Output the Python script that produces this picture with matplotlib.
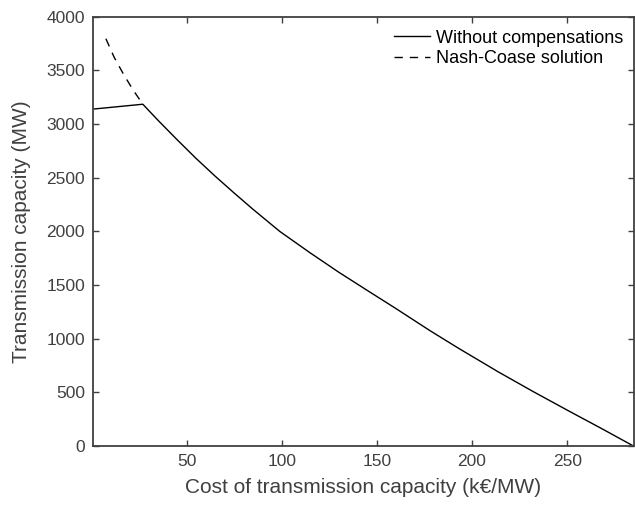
import matplotlib.pyplot as plt
import numpy as np

plt.rcParams['font.family'] = ['Liberation Sans', 'DejaVu Sans']

# Without compensations (solid)
cost_solid = [1, 27, 35, 45, 55, 65, 75, 85, 99, 115, 130, 146, 160,
              178, 193, 214, 232, 250, 268, 285]
cap_solid = [3140, 3185, 3035, 2855, 2680, 2515, 2358, 2205, 2000, 1800,
             1620, 1439, 1282, 1075, 911, 690, 510, 336, 165, 0]

# Nash-Coase solution (dashed)
cost_dash = [7.6, 12, 17, 22, 27]
cap_dash = [3795, 3620, 3460, 3315, 3185]

axis_col = '#404040'
fig = plt.figure(figsize=(6.35, 5.07), dpi=100)
ax = fig.add_axes([0.147, 0.12, 0.851, 0.847])

ax.plot(cost_solid, cap_solid, color='black', lw=1.0,
        label='Without compensations')
ax.plot(cost_dash, cap_dash, color='black', lw=1.0, ls=(0, (6, 5)),
        label='Nash-Coase solution')

ax.set_xlim(1, 285)
ax.set_ylim(0, 4000)
ax.set_xticks([50, 100, 150, 200, 250])
ax.set_yticks(np.arange(0, 4001, 500))
ax.tick_params(direction='in', top=True, right=True, length=4, width=1,
               pad=6, colors=axis_col, labelsize=12.5, labelcolor=axis_col)
for s in ax.spines.values():
    s.set_color(axis_col)
    s.set_linewidth(1.3)

ax.set_xlabel('Cost of transmission capacity (k€/MW)', fontsize=15,
              color=axis_col, labelpad=6)
ax.set_ylabel('Transmission capacity (MW)', fontsize=15, color=axis_col,
              labelpad=11)

leg = ax.legend(loc='upper right', frameon=False, fontsize=13,
                handlelength=2.0, handletextpad=0.3, labelspacing=0.2,
                borderaxespad=0.2, bbox_to_anchor=(1.0, 0.995))

fig.savefig('out.png', dpi=100, facecolor='white')
